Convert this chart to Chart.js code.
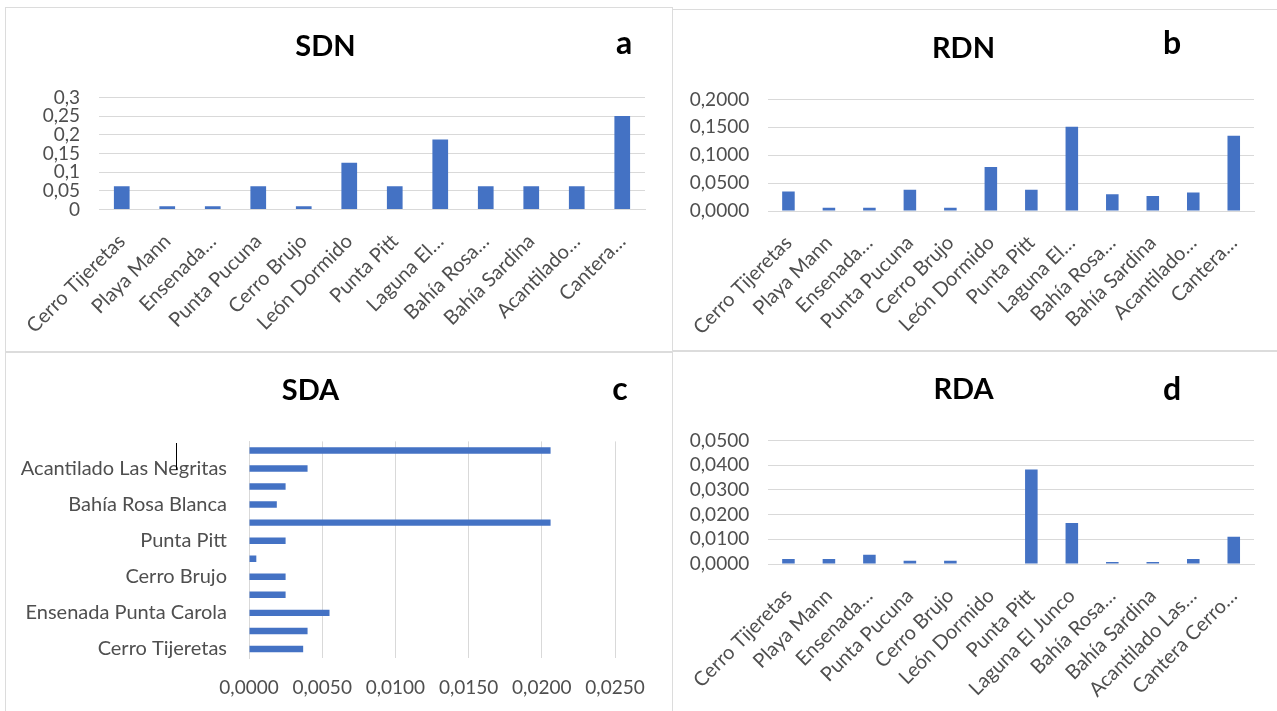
<!DOCTYPE html>
<html>
<head>
<meta charset="utf-8">
<script src="https://cdn.jsdelivr.net/npm/chart.js@4"></script>
<style>
  html, body { margin: 0; padding: 0; background: #fff; width: 1277px; height: 711px; overflow: hidden; }
  .panel { position: absolute; box-sizing: border-box; border: 1px solid #dcdcdc; }
  canvas { position: absolute; }
</style>
</head>
<body>
<div class="panel" style="left:5px;top:7px;width:668px;height:346px;"></div>
<div class="panel" style="left:672px;top:9px;width:620px;height:343px;"></div>
<div class="panel" style="left:5px;top:351px;width:668px;height:380px;"></div>
<div class="panel" style="left:672px;top:350px;width:620px;height:380px;"></div>
<canvas id="cA" width="666" height="344" style="left:6px;top:8px;"></canvas>
<canvas id="cB" width="604" height="341" style="left:673px;top:10px;"></canvas>
<canvas id="cC" width="666" height="359" style="left:6px;top:352px;"></canvas>
<canvas id="cD" width="604" height="360" style="left:673px;top:351px;"></canvas>
<script>
// ---- data ----
const labelsSDN = ['Cerro Tijeretas','Playa Mann','Ensenada…','Punta Pucuna','Cerro Brujo','León Dormido','Punta Pitt','Laguna El…','Bahía Rosa…','Bahía Sardina','Acantilado…','Cantera…'];
const labelsRDN = ['Cerro Tijeretas','Playa Mann','Ensenada…','Punta Pucuna','Cerro Brujo','León Dormido','Punta Pitt','Laguna El…','Bahía Rosa…','Bahía Sardina','Acantilado…','Cantera…'];
const labelsSDA = ['Cerro Tijeretas','Playa Mann','Ensenada Punta Carola','Punta Pucuna','Cerro Brujo','León Dormido','Punta Pitt','Laguna El Junco','Bahía Rosa Blanca','Bahía Sardina','Acantilado Las Negritas','Cantera Cerro…'];
const labelsRDA = ['Cerro Tijeretas','Playa Mann','Ensenada…','Punta Pucuna','Cerro Brujo','León Dormido','Punta Pitt','Laguna El Junco','Bahía Rosa…','Bahía Sardina','Acantilado Las…','Cantera Cerro…'];

const valuesSDN = [0.0625, 0.009, 0.009, 0.0625, 0.009, 0.125, 0.0625, 0.1875, 0.0625, 0.0625, 0.0625, 0.25];
const valuesRDN = [0.035, 0.006, 0.006, 0.038, 0.006, 0.079, 0.038, 0.151, 0.030, 0.027, 0.033, 0.135];
const valuesSDA = [0.0037, 0.0040, 0.0055, 0.0025, 0.0025, 0.0005, 0.0025, 0.0206, 0.0019, 0.0025, 0.0040, 0.0206];
const valuesRDA = [0.0020, 0.0020, 0.0037, 0.0013, 0.0013, 0, 0.0382, 0.0166, 0.0008, 0.0008, 0.0020, 0.0110];

const ticksSDN = ['0','0,05','0,1','0,15','0,2','0,25','0,3'];
const ticksRDN = ['0,0000','0,0500','0,1000','0,1500','0,2000'];
const ticksSDA = ['0,0000','0,0050','0,0100','0,0150','0,0200','0,0250'];
const ticksRDA = ['0,0000','0,0100','0,0200','0,0300','0,0400','0,0500'];

// ---- style ----
const FONT = 'Lato, "Open Sans", sans-serif';
const BLUE = '#4472C4';
const GRID = '#d9d9d9';
const TICK = '#4f4f4f';
Chart.defaults.font.family = FONT;
Chart.defaults.color = TICK;

function letterPlugin(letter, x, y) {
  return {
    id: 'letter',
    afterDraw(chart) {
      const ctx = chart.ctx;
      ctx.save();
      ctx.font = 'bold 32px ' + FONT;
      ctx.fillStyle = '#000';
      ctx.textAlign = 'center';
      ctx.textBaseline = 'middle';
      ctx.fillText(letter, x, y);
      ctx.restore();
    }
  };
}

function titleOpts(text) {
  return {
    display: true, text: text, color: '#000',
    font: { size: 29, weight: 'bold', family: FONT },
    padding: { top: 21, bottom: 33.6 }
  };
}

function columnChart(id, labels, values, tickLabels, max, step, title, yWidth, xHeight, padRight, barPct, letter) {
  return new Chart(document.getElementById(id), {
    type: 'bar',
    data: { labels: labels, datasets: [{ data: values, backgroundColor: BLUE, categoryPercentage: 1, barPercentage: barPct }] },
    options: {
      responsive: false, animation: false, devicePixelRatio: 1,
      layout: { padding: { left: 0, right: padRight, top: 0, bottom: 0 } },
      plugins: { legend: { display: false }, tooltip: { enabled: false }, title: titleOpts(title) },
      scales: {
        x: {
          grid: { display: false, drawTicks: false },
          border: { display: true, color: GRID },
          ticks: { color: TICK, font: { size: 20 }, minRotation: 45, maxRotation: 45, autoSkip: false, padding: 20 },
          afterFit(s) { s.height = xHeight; }
        },
        y: {
          min: 0, max: max,
          grid: { color: GRID, drawTicks: false },
          border: { display: false },
          ticks: { stepSize: step, color: TICK, font: { size: 19 }, padding: 19, autoSkip: false,
            callback: (v, i) => tickLabels[i] },
          afterFit(s) { s.width = yWidth; }
        }
      }
    },
    plugins: [letterPlugin(letter[0], letter[1], letter[2])]
  });
}

columnChart('cA', labelsSDN, valuesSDN, ticksSDN, 0.3, 0.05, 'SDN', 93, 142.5, 27, 0.345, ['a', 618, 36]);
columnChart('cB', labelsRDN, valuesRDN, ticksRDN, 0.2, 0.05, 'RDN', 95, 140, 23, 0.31, ['b', 499, 34]);
columnChart('cD', labelsRDA, valuesRDA, ticksRDA, 0.05, 0.01, 'RDA', 95, 147, 23, 0.31, ['d', 499, 39]);

// horizontal bar chart (SDA)
new Chart(document.getElementById('cC'), {
  type: 'bar',
  data: { labels: labelsSDA, datasets: [{ data: valuesSDA, backgroundColor: BLUE, categoryPercentage: 1, barPercentage: 0.36 }] },
  options: {
    indexAxis: 'y',
    responsive: false, animation: false, devicePixelRatio: 1,
    layout: { padding: { left: 0, right: 57, top: 0, bottom: 0 } },
    plugins: { legend: { display: false }, tooltip: { enabled: false }, title: titleOpts('SDA') },
    scales: {
      x: {
        min: 0, max: 0.025,
        grid: { color: GRID, drawTicks: false },
        border: { display: false },
        ticks: { stepSize: 0.005, color: TICK, font: { size: 19 }, padding: 18, autoSkip: false,
          callback: (v, i) => ticksSDA[i] },
        afterFit(s) { s.height = 53; }
      },
      y: {
        reverse: true,
        grid: { display: false, drawTicks: false },
        border: { display: true, color: GRID },
        ticks: { color: TICK, font: { size: 20 }, padding: 22, autoSkip: false,
          callback: (v, i) => (i % 2 === 0 ? labelsSDA[i] : '') },
        afterFit(s) { s.width = 243; }
      }
    }
  },
  plugins: [letterPlugin('c', 614, 38), {
    id: 'cursor',
    afterDraw(chart) {
      const ctx = chart.ctx;
      ctx.save();
      ctx.strokeStyle = '#000';
      ctx.lineWidth = 1;
      ctx.beginPath();
      ctx.moveTo(170.5, 91);
      ctx.lineTo(170.5, 118);
      ctx.stroke();
      ctx.restore();
    }
  }]
});
</script>
</body>
</html>
